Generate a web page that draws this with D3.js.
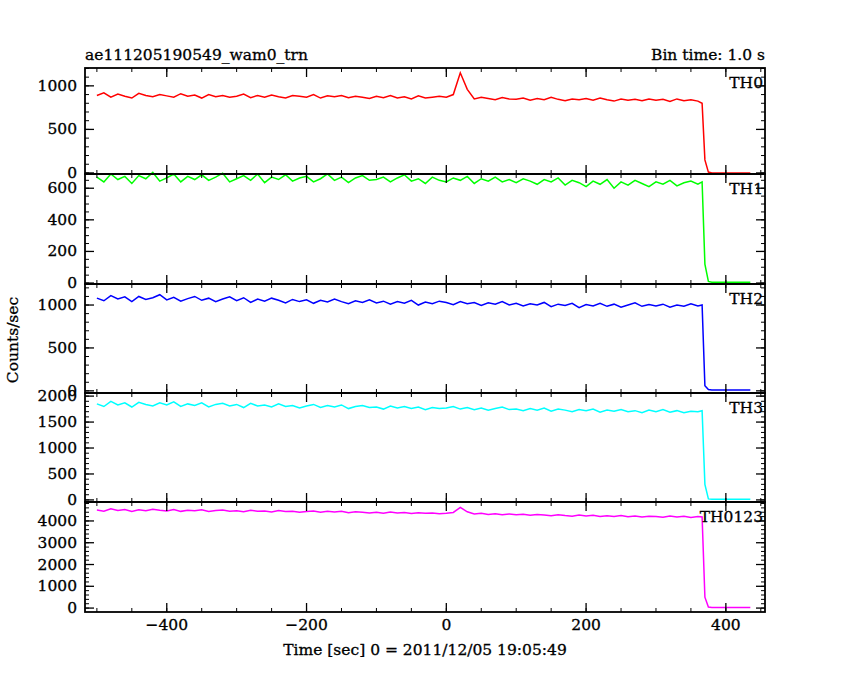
<!DOCTYPE html><html><head><meta charset="utf-8"><script src="https://cdn.jsdelivr.net/npm/d3@7"></script>
<style>body{margin:0;background:#fff}text{font-family:"DejaVu Serif",serif;font-size:15.5px;stroke:#000;stroke-width:0.3px}</style></head><body><svg width="850" height="680"></svg>
<script>
const times=d3.range(-500,361,10).concat([366,370,375,380,400,420,435]);
const th0=[890,920,870,905,880,860,915,890,875,900,885,870,910,880,895,860,900,875,890,870,880,905,865,890,870,895,875,860,890,880,870,900,860,885,875,890,865,880,870,855,880,865,890,860,875,850,885,860,870,880,870,900,1150,960,850,870,855,840,865,850,845,860,835,855,840,870,845,830,850,840,855,835,860,840,825,850,835,845,830,850,835,845,820,850,830,840,825,800,150,10,0,0,0,0];
const th1=[670,640,690,655,675,630,680,660,700,645,665,690,640,675,655,685,650,670,695,640,660,680,650,690,635,670,655,685,645,665,675,640,660,690,650,670,635,665,680,650,655,670,640,665,685,645,660,630,670,650,640,665,650,675,630,660,645,670,640,655,635,660,645,625,655,640,665,620,650,635,610,645,625,655,600,640,620,650,630,610,640,625,650,615,635,645,625,640,120,10,5,5,5,5];
const th2=[1080,1050,1110,1070,1095,1040,1100,1065,1085,1120,1060,1090,1045,1075,1100,1055,1080,1040,1070,1095,1050,1085,1030,1070,1045,1080,1055,1025,1065,1040,1060,1020,1055,1035,1070,1040,1015,1050,1030,1060,1025,1045,1010,1040,1020,1055,1000,1035,1015,1045,1030,1005,1040,1015,1030,995,1025,1010,1040,1000,1020,990,1015,1000,1030,980,1010,995,1020,970,1005,990,1020,985,1010,975,1000,1025,985,1005,990,1010,975,1000,985,1015,990,1000,60,15,10,10,10,10];
const th3=[1850,1800,1900,1830,1870,1790,1880,1840,1810,1870,1830,1890,1800,1850,1820,1870,1790,1840,1860,1810,1840,1780,1860,1810,1830,1790,1850,1800,1820,1770,1810,1840,1780,1820,1790,1830,1760,1800,1820,1780,1790,1750,1810,1770,1800,1760,1790,1740,1780,1760,1770,1800,1750,1780,1740,1770,1730,1760,1790,1740,1750,1720,1760,1730,1770,1710,1750,1730,1700,1740,1720,1750,1690,1730,1710,1740,1700,1720,1680,1730,1700,1740,1690,1720,1680,1710,1700,1720,300,20,15,15,15,15];
const th0123=[4500,4450,4560,4480,4520,4430,4510,4470,4540,4490,4460,4520,4440,4490,4470,4510,4430,4480,4500,4450,4470,4420,4490,4440,4460,4410,4480,4430,4450,4400,4430,4460,4400,4440,4410,4450,4380,4420,4400,4370,4400,4350,4410,4370,4390,4340,4380,4350,4370,4330,4350,4390,4620,4420,4320,4350,4300,4330,4290,4320,4280,4310,4260,4300,4270,4240,4290,4250,4220,4270,4230,4260,4200,4240,4210,4250,4190,4230,4180,4220,4200,4170,4230,4180,4210,4160,4200,4180,500,50,30,30,30,30];
const panels=[
 {name:"TH0",vals:th0,color:"#ff0000",dom:[-12,1205],top:68,bot:174,major:500,minor:100},
 {name:"TH1",vals:th1,color:"#00ff00",dom:[-6,690],top:174,bot:284,major:200,minor:50},
 {name:"TH2",vals:th2,color:"#0000ff",dom:[-25,1245],top:284,bot:393,major:500,minor:100},
 {name:"TH3",vals:th3,color:"#00ffff",dom:[-40,2060],top:393,bot:502,major:500,minor:100},
 {name:"TH0123",vals:th0123,color:"#ff00ff",dom:[-180,4870],top:502,bot:612,major:1000,minor:200}];
const svg=d3.select("svg");
const L=85,R=765;
const x=d3.scaleLinear().domain([-517,456]).range([L,R]);
const xMaj=d3.range(-400,401,200),xMin=d3.range(-500,451,50);
panels.forEach((p,i)=>{
 const y=d3.scaleLinear().domain(p.dom).range([p.bot,p.top]);
 const g=svg.append("g");
 g.append("path").datum(times).attr("fill","none").attr("stroke",p.color).attr("stroke-width",1.5)
  .attr("d",d3.line().x(t=>x(t)).y((t,j)=>y(p.vals[j])));
 g.append("rect").attr("x",L).attr("y",p.top).attr("width",R-L).attr("height",p.bot-p.top).attr("fill","none").attr("stroke","#000").attr("stroke-width",1.8);
 const yMin=d3.range(0,p.dom[1],p.minor),yMaj=d3.range(0,p.dom[1],p.major);
 yMin.forEach(v=>{g.append("line").attr("x1",L).attr("x2",L+4).attr("y1",y(v)).attr("y2",y(v)).attr("stroke","#000");g.append("line").attr("x1",R).attr("x2",R-4).attr("y1",y(v)).attr("y2",y(v)).attr("stroke","#000");});
 yMaj.forEach(v=>{g.append("line").attr("x1",L).attr("x2",L+9).attr("y1",y(v)).attr("y2",y(v)).attr("stroke","#000").attr("stroke-width",1.3);g.append("line").attr("x1",R).attr("x2",R-9).attr("y1",y(v)).attr("y2",y(v)).attr("stroke","#000").attr("stroke-width",1.3);
  g.append("text").attr("x",L-8).attr("y",y(v)+5).attr("text-anchor","end").text(v);});
 [p.top,p.bot].forEach((yy,k)=>{const s=k==0?1:-1;
  xMin.forEach(v=>g.append("line").attr("x1",x(v)).attr("x2",x(v)).attr("y1",yy).attr("y2",yy+s*4).attr("stroke","#000"));
  xMaj.forEach(v=>g.append("line").attr("x1",x(v)).attr("x2",x(v)).attr("y1",yy).attr("y2",yy+s*9).attr("stroke","#000").attr("stroke-width",1.3));});
 g.append("text").attr("x",R-2).attr("y",p.top+20).attr("text-anchor","end").text(p.name);
});
xMaj.forEach(v=>svg.append("text").attr("x",x(v)).attr("y",630).attr("text-anchor","middle").text(v<0?"\u2212"+(-v):v));
svg.append("text").attr("x",L).attr("y",60).text("ae111205190549_wam0_trn");
svg.append("text").attr("x",R).attr("y",60).attr("text-anchor","end").text("Bin time: 1.0 s");
svg.append("text").attr("x",425).attr("y",655).attr("text-anchor","middle").text("Time [sec] 0 = 2011/12/05 19:05:49");
svg.append("text").attr("transform","translate(18,340) rotate(-90)").attr("text-anchor","middle").text("Counts/sec");
</script></body></html>
